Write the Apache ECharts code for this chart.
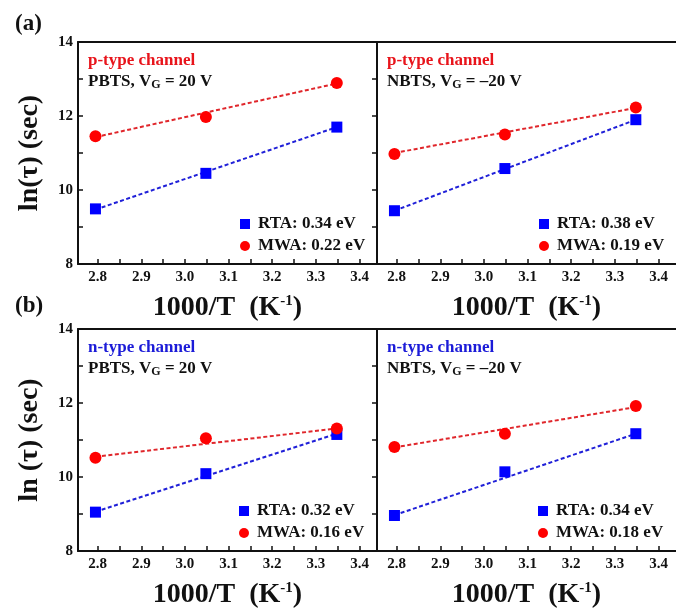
<!DOCTYPE html>
<html>
<head>
<meta charset="utf-8">
<script src="https://cdn.jsdelivr.net/npm/echarts@6/dist/echarts.min.js"></script>
<style>
  html, body { margin: 0; padding: 0; background: #fff; }
  #chart { width: 676px; height: 610px; }
</style>
</head>
<body>
<div id="chart"></div>
<script>
// ---- data ----
const xVals = [2.795, 3.048, 3.348];           // 1000/T for 358 K, 328 K, 298 K
const fitX = [2.795, 3.348];                    // ends of the dashed fit lines

// (a) p-type, PBTS
const rtaPPBTS = [9.49, 10.45, 11.70];
const mwaPPBTS = [11.45, 11.97, 12.89];
const fitRtaPPBTS = [9.47, 11.70];
const fitMwaPPBTS = [11.43, 12.88];
// (a) p-type, NBTS
const rtaPNBTS = [9.44, 10.58, 11.90];
const mwaPNBTS = [10.97, 11.50, 12.23];
const fitRtaPNBTS = [9.44, 11.90];
const fitMwaPNBTS = [11.00, 12.22];
// (b) n-type, PBTS
const rtaNPBTS = [9.05, 10.09, 11.15];
const mwaNPBTS = [10.52, 11.05, 11.31];
const fitRtaNPBTS = [9.06, 11.17];
const fitMwaNPBTS = [10.55, 11.31];
// (b) n-type, NBTS
const rtaNNBTS = [8.96, 10.14, 11.17];
const mwaNNBTS = [10.81, 11.17, 11.92];
const fitRtaNNBTS = [8.97, 11.17];
const fitMwaNNBTS = [10.80, 11.89];

const rtaLabels = ['RTA: 0.34 eV', 'RTA: 0.38 eV', 'RTA: 0.32 eV', 'RTA: 0.34 eV'];
const mwaLabels = ['MWA: 0.22 eV', 'MWA: 0.19 eV', 'MWA: 0.16 eV', 'MWA: 0.18 eV'];
const channelLabels = ['p-type channel', 'p-type channel', 'n-type channel', 'n-type channel'];
const stressLabels = ['PBTS, V{sub|G} = 20 V', 'NBTS, V{sub|G} = \u201320 V', 'PBTS, V{sub|G} = 20 V', 'NBTS, V{sub|G} = \u201320 V'];
const yTitles = ['ln(\u03c4) (sec)', 'ln (\u03c4) (sec)'];
const xTickLabels = [2.8, 2.9, 3.0, 3.1, 3.2, 3.3, 3.4];
const xTickMarks = [2.8, 2.85, 2.9, 2.95, 3.0, 3.05, 3.1, 3.15, 3.2, 3.25, 3.3, 3.35, 3.4];
const yTickLabels = [8, 10, 12, 14];

// ---- styling / layout ----
const FONT = 'Liberation Serif';
const RED = '#ff0000', BLUE = '#0000ff';
const RED_LINE = '#e0262b', BLUE_LINE = '#2020d8';
const RED_TEXT = '#e8141b', BLUE_TEXT = '#1b1bd8';
const panels = [
  { left: 78,  top: 42,  rta: rtaPPBTS, mwa: mwaPPBTS, frta: fitRtaPPBTS, fmwa: fitMwaPPBTS, col: RED_TEXT,  isLeft: true,  yt: yTitles[0], lg: 168 },
  { left: 377, top: 42,  rta: rtaPNBTS, mwa: mwaPNBTS, frta: fitRtaPNBTS, fmwa: fitMwaPNBTS, col: RED_TEXT,  isLeft: false, lg: 168 },
  { left: 78,  top: 329, rta: rtaNPBTS, mwa: mwaNPBTS, frta: fitRtaNPBTS, fmwa: fitMwaNPBTS, col: BLUE_TEXT, isLeft: true,  yt: yTitles[1], lg: 167 },
  { left: 377, top: 329, rta: rtaNNBTS, mwa: mwaNNBTS, frta: fitRtaNNBTS, fmwa: fitMwaNNBTS, col: BLUE_TEXT, isLeft: false, lg: 167 }
];
const W = 299, H = 222;
const XMIN = 2.755, XMAX = 3.44;

const grid = [], xAxis = [], yAxis = [], series = [], legend = [], graphic = [];
const lineCol = '#111';
const axisLineStyle = { lineStyle: { color: lineCol, width: 2 } };
const labelStyle = { fontFamily: FONT, fontWeight: 'bold', fontSize: 15, color: '#111' };
const xTitleRich = {
  sup: { fontFamily: FONT, fontWeight: 'bold', fontSize: 15, color: '#111', verticalAlign: 'top', lineHeight: 14 }
};

panels.forEach((p, i) => {
  grid.push({ left: p.left, top: p.top, width: W, height: H, containLabel: false });
  xAxis.push({
    type: 'value', gridIndex: i, position: 'bottom', min: XMIN, max: XMAX,
    axisLine: axisLineStyle,
    axisTick: { inside: true, length: 5, customValues: xTickMarks, lineStyle: { color: lineCol, width: 1.5 } },
    axisLabel: { customValues: xTickLabels, formatter: v => v.toFixed(1), margin: 6, ...labelStyle },
    splitLine: { show: false },
    name: '1000/T  (K{sup|-1})', nameLocation: 'middle', nameGap: 30,
    nameTextStyle: { fontFamily: FONT, fontWeight: 'bold', fontSize: 28, color: '#111', rich: xTitleRich }
  });
  xAxis.push({
    type: 'value', gridIndex: i, position: 'top', min: XMIN, max: XMAX,
    axisLine: axisLineStyle, axisTick: { show: false }, axisLabel: { show: false }, splitLine: { show: false }
  });
  yAxis.push({
    type: 'value', gridIndex: i, position: 'left', min: 8, max: 14, interval: 1,
    axisLine: axisLineStyle,
    axisTick: { show: p.isLeft, inside: true, length: 5, lineStyle: { color: lineCol, width: 1.5 } },
    axisLabel: { show: p.isLeft, customValues: yTickLabels, margin: 5, ...labelStyle },
    splitLine: { show: false },
    name: p.isLeft ? p.yt : '', nameLocation: 'middle', nameGap: 34, nameRotate: 90,
    nameTextStyle: { fontFamily: FONT, fontWeight: 'bold', fontSize: 28, color: '#111' }
  });
  yAxis.push({
    type: 'value', gridIndex: i, position: 'right', min: 8, max: 14, interval: 1,
    show: p.isLeft,
    axisLine: axisLineStyle,
    axisTick: { inside: true, length: 5, lineStyle: { color: lineCol, width: 1.5 } },
    axisLabel: { show: false }, splitLine: { show: false }
  });

  const xa = 2 * i, ya = 2 * i;
  const rName = 'r' + i, mName = 'm' + i;
  series.push({
    type: 'line', xAxisIndex: xa, yAxisIndex: ya, silent: true, symbol: 'none', z: 2,
    data: fitX.map((x, k) => [x, p.frta[k]]),
    lineStyle: { color: BLUE_LINE, width: 2, type: [4, 2.5] }
  });
  series.push({
    type: 'line', xAxisIndex: xa, yAxisIndex: ya, silent: true, symbol: 'none', z: 2,
    data: fitX.map((x, k) => [x, p.fmwa[k]]),
    lineStyle: { color: RED_LINE, width: 2, type: [4, 2.5] }
  });
  series.push({
    name: rName, type: 'scatter', xAxisIndex: xa, yAxisIndex: ya, z: 3,
    symbol: 'rect', symbolSize: 11, itemStyle: { color: BLUE, opacity: 1 },
    data: xVals.map((x, k) => [x, p.rta[k]])
  });
  series.push({
    name: mName, type: 'scatter', xAxisIndex: xa, yAxisIndex: ya, z: 3,
    symbol: 'circle', symbolSize: 12, itemStyle: { color: RED, opacity: 1 },
    data: xVals.map((x, k) => [x, p.mwa[k]])
  });

  const labMap = { [rName]: rtaLabels[i], [mName]: mwaLabels[i] };
  legend.push({
    left: p.left + p.lg - 6, top: p.top + 173, orient: 'vertical', padding: 0,
    selectedMode: false, itemWidth: 10, itemHeight: 10, itemGap: 4,
    data: [{ name: rName, icon: 'rect', itemStyle: { color: BLUE, opacity: 1 } }, { name: mName, icon: 'circle', itemStyle: { color: RED, opacity: 1 } }],
    formatter: n => labMap[n],
    textStyle: { fontFamily: FONT, fontWeight: 'bold', fontSize: 17, color: '#111', lineHeight: 18, padding: [0, 0, 0, 3] }
  });

  graphic.push({
    type: 'text', left: p.left + 10, top: p.top + 10, z: 10,
    style: { text: channelLabels[i], fill: p.col, font: 'bold 17px "' + FONT + '"' }
  });
  graphic.push({
    type: 'text', left: p.left + 10, top: p.top + 31, z: 10,
    style: {
      text: stressLabels[i], fill: '#111', font: 'bold 17px "' + FONT + '"',
      rich: { sub: { fontFamily: FONT, fontWeight: 'bold', fontSize: 12, fill: '#111', color: '#111', padding: [7, 0, 0, 0] } }
    }
  });
});

graphic.push({ type: 'text', left: 15, top: 13, style: { text: '(a)', fill: '#111', font: 'bold 23px "' + FONT + '"' } });
graphic.push({ type: 'text', left: 15, top: 295, style: { text: '(b)', fill: '#111', font: 'bold 23px "' + FONT + '"' } });

const chart = echarts.init(document.getElementById('chart'), null, { renderer: 'canvas' });
chart.setOption({
  backgroundColor: '#ffffff',
  animation: false,
  grid, xAxis, yAxis, series, legend, graphic
});
</script>
</body>
</html>
